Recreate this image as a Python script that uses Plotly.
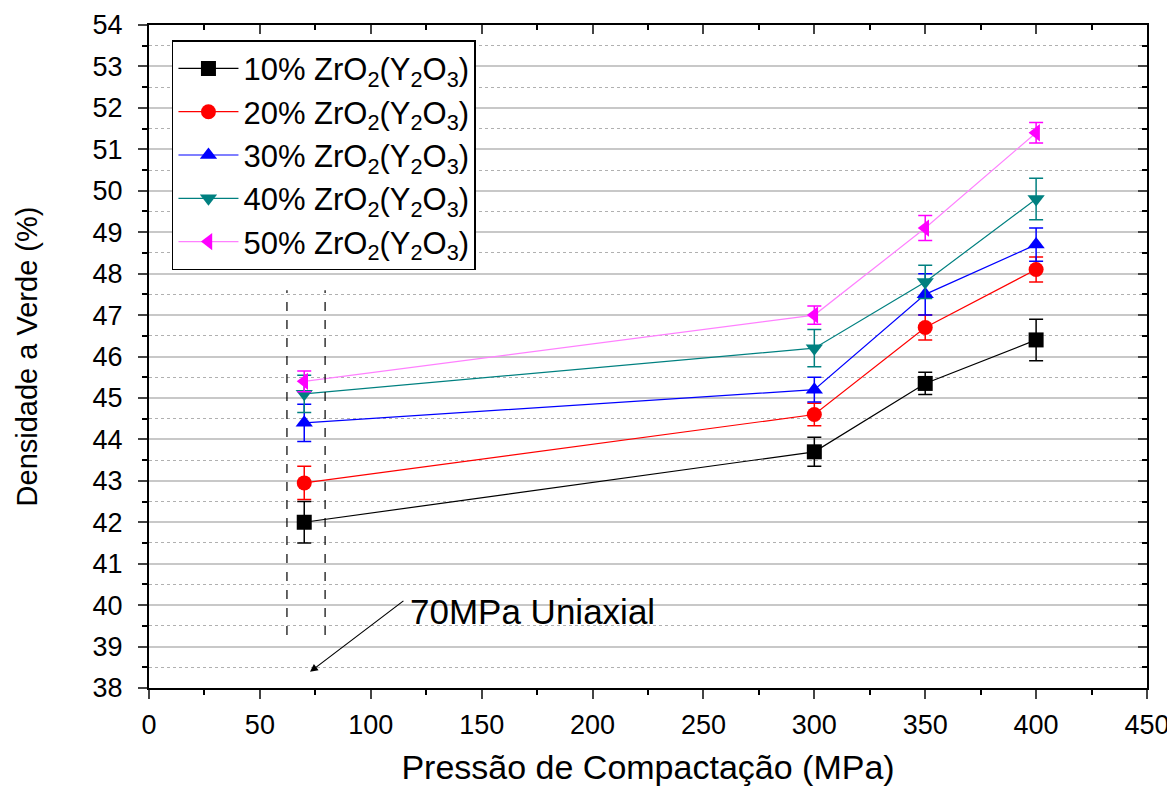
import plotly.graph_objects as go

pressure = [70, 300, 350, 400]
series_names = ["10% ZrO<sub>2</sub>(Y<sub>2</sub>O<sub>3</sub>)",
                "20% ZrO<sub>2</sub>(Y<sub>2</sub>O<sub>3</sub>)",
                "30% ZrO<sub>2</sub>(Y<sub>2</sub>O<sub>3</sub>)",
                "40% ZrO<sub>2</sub>(Y<sub>2</sub>O<sub>3</sub>)",
                "50% ZrO<sub>2</sub>(Y<sub>2</sub>O<sub>3</sub>)"]
dens_10 = [42.0, 43.7, 45.35, 46.4]
err_10 = [0.5, 0.35, 0.27, 0.5]
dens_20 = [42.95, 44.6, 46.7, 48.1]
err_20 = [0.4, 0.27, 0.3, 0.3]
dens_30 = [44.4, 45.2, 47.5, 48.7]
err_30 = [0.45, 0.3, 0.5, 0.4]
dens_40 = [45.1, 46.2, 47.8, 49.8]
err_40 = [0.45, 0.45, 0.4, 0.5]
dens_50 = [45.4, 47.0, 49.1, 51.4]
err_50 = [0.25, 0.22, 0.3, 0.25]

y_ticks = list(range(38, 55))
x_ticks = list(range(0, 451, 50))

colors = ["#000000", "#FF0000", "#0000FF", "#008080", "#FF00FF"]
line_colors = ["#000000", "#FF0000", "#0000FF", "#008080", "#FF80FF"]
symbols = ["square", "circle", "triangle-up", "triangle-down", "triangle-left"]
all_y = [dens_10, dens_20, dens_30, dens_40, dens_50]
all_e = [err_10, err_20, err_30, err_40, err_50]

fig = go.Figure()
for name, y, e, c, lc, s in zip(series_names, all_y, all_e, colors, line_colors, symbols):
    fig.add_trace(go.Scatter(
        x=pressure, y=y, name=name, mode="lines+markers",
        line=dict(color=lc, width=1.2),
        marker=dict(symbol=s, size=15, color=c, line=dict(width=0)),
        error_y=dict(type="data", array=e, visible=True, color=c, thickness=1.5, width=7),
    ))

font_family = "Liberation Sans, Arial, sans-serif"

# page body has an 8px margin, so the figure is 8px smaller and offset
fig.update_layout(
    width=1167, height=778,
    margin=dict(l=141, r=28, t=17, b=98),
    paper_bgcolor="white", plot_bgcolor="white",
    font=dict(family=font_family, color="black", size=27),
    showlegend=True,
    legend=dict(x=0.023, y=0.977, xanchor="left", yanchor="top",
                bgcolor="white", bordercolor="black", borderwidth=1.5,
                font=dict(size=31, family=font_family), tracegroupgap=0,
                itemwidth=60),
    xaxis=dict(range=[0, 450], tickvals=x_ticks, ticks="outside", ticklen=9, tickwidth=2,
               showline=True, linecolor="black", linewidth=2, mirror=True,
               showgrid=False, zeroline=False, automargin=False,
               minor=dict(dtick=25, ticks="outside", ticklen=5, tickwidth=1.5, tickcolor="black"),
               title=dict(text="Pressão de Compactação (MPa)", font=dict(size=34), standoff=16),
               tickfont=dict(size=27), ticklabelstandoff=3),
    yaxis=dict(range=[38, 54], tickvals=y_ticks, ticks="outside", ticklen=9, tickwidth=2,
               showline=True, linecolor="black", linewidth=2, mirror=True,
               showgrid=True, gridcolor="#C8C8C8", gridwidth=1.5, zeroline=False, automargin=False,
               minor=dict(dtick=0.5, ticks="outside", ticklen=5, tickwidth=1.5, tickcolor="black",
                          showgrid=True, gridcolor="#B0B0B0", griddash="dot", gridwidth=1),
               title=dict(text="Densidade a Verde (%)", font=dict(size=29), standoff=46),
               tickfont=dict(size=27), ticklabelstandoff=10),
    xaxis2=dict(range=[0, 450], overlaying="x", side="top", anchor="y", tickvals=x_ticks,
                ticks="inside", ticklen=9, tickwidth=2, showticklabels=False, showgrid=False,
                zeroline=False, showline=False, automargin=False,
                minor=dict(dtick=25, ticks="inside", ticklen=5, tickwidth=1.5, tickcolor="black")),
    yaxis2=dict(range=[38, 54], overlaying="y", side="right", anchor="x", tickvals=y_ticks,
                ticks="inside", ticklen=9, tickwidth=2, showticklabels=False, showgrid=False,
                zeroline=False, showline=False, automargin=False,
                minor=dict(dtick=0.5, ticks="inside", ticklen=5, tickwidth=1.5, tickcolor="black")),
)

# invisible trace to activate the mirrored tick axes
fig.add_trace(go.Scatter(x=[0], y=[38], xaxis="x2", yaxis="y2", mode="markers",
                         marker=dict(opacity=0), showlegend=False, hoverinfo="skip"))

# annotation: dashed bracket lines and arrow
for xv in [62.2, 79.4]:
    fig.add_shape(type="line", x0=xv, x1=xv, y0=39.28, y1=47.6, xref="x", yref="y",
                  line=dict(color="black", width=1.2, dash="dash"))
fig.add_annotation(x=72.6, y=38.39, ax=115.4, ay=40.13, xref="x", yref="y", axref="x", ayref="y",
                   showarrow=True, arrowhead=2, arrowsize=1.3, arrowwidth=1.2, arrowcolor="black", text="")
fig.add_annotation(x=117, y=39.85, xref="x", yref="y", text="70MPa Uniaxial", showarrow=False,
                   xanchor="left", yanchor="middle", font=dict(size=35, family=font_family, color="black"))

fig.write_html("out.html")
